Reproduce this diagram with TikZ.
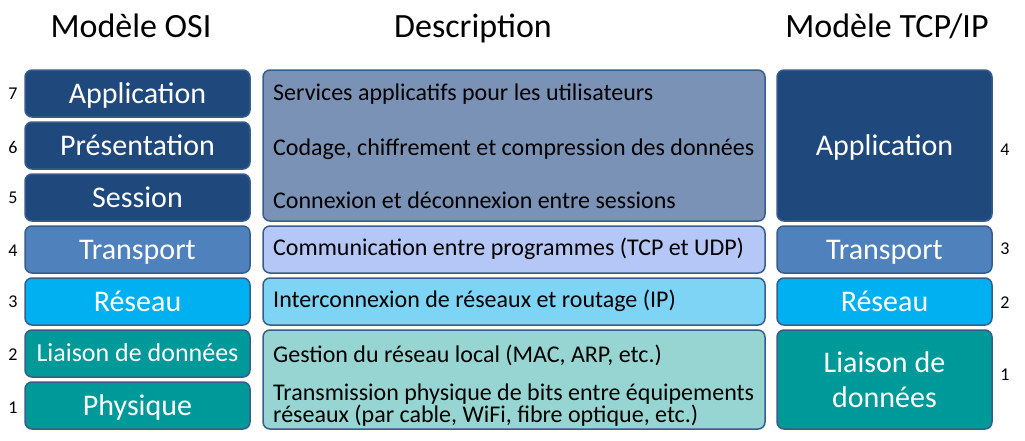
\documentclass[tikz,border=0pt]{standalone}
\usepackage{fontspec}
\setmainfont{Carlito}
\usepackage{xcolor}
\usetikzlibrary{positioning}

\definecolor{edge}{RGB}{56,93,138}
\definecolor{osiapp}{RGB}{31,73,125}
\definecolor{ositrans}{RGB}{79,129,189}
\definecolor{osinet}{RGB}{0,176,240}
\definecolor{osilink}{RGB}{0,153,153}
\definecolor{descup}{RGB}{122,146,182}
\definecolor{desctrans}{RGB}{180,199,247}
\definecolor{descnet}{RGB}{125,212,245}
\definecolor{desclink}{RGB}{150,213,210}

\begin{document}
\begin{tikzpicture}[x=1pt,y=-1pt,
  node distance=5pt and 13pt,
  layer/.style={draw=edge,line width=1.5pt,rounded corners=7pt,text=white,
                inner sep=0pt,outer sep=0pt,font=\fontsize{30}{35}\selectfont},
  osi/.style={layer,minimum width=225pt,minimum height=47pt,
              text height=19pt,text depth=0pt},
  tcp/.style={layer,minimum width=215pt,minimum height=47pt,
              text height=19pt,text depth=0pt},
  descbox/.style={draw=edge,line width=1.5pt,rounded corners=7pt,
                  minimum width=502pt,minimum height=47pt,inner sep=0pt,outer sep=0pt},
  desctext/.style={anchor=base west,inner sep=0pt,font=\fontsize{24}{22}\selectfont},
  num/.style={font=\fontsize{18}{20}\selectfont,inner sep=0pt},
  title/.style={anchor=base,inner sep=0pt,font=\fontsize{34}{40}\selectfont}
]
\useasboundingbox (0,0) rectangle (1025,440);

% headings
\node[title] (hosi) at (131,37) {Modèle OSI};
\node[title] (hdesc) at (473,37) {Description};
\node[title] (htcp) at (887,37) {Modèle TCP/IP};

% OSI model
\node[osi,fill=osiapp,anchor=north west] (osi7) at (25,70) {Application};
\node[osi,fill=osiapp,below=of osi7] (osi6) {Présentation};
\node[osi,fill=osiapp,below=of osi6] (osi5) {Session};
\node[osi,fill=ositrans,below=of osi5] (osi4) {Transport};
\node[osi,fill=osinet,below=of osi4] (osi3) {Réseau};
\node[osi,fill=osilink,below=of osi3,font=\fontsize{26}{30}\selectfont,text height=16.5pt] (osi2) {Liaison de données};
\node[osi,fill=osilink,below=of osi2] (osi1) {Physique};

% description
\node[descbox,fill=descup,minimum height=151pt,right=of osi6] (d765) {};
\node[descbox,fill=desctrans,right=of osi4] (d4) {};
\node[descbox,fill=descnet,right=of osi3] (d3) {};
\node[descbox,fill=desclink,minimum height=99pt,below=of d3] (d21) {};

\node[desctext] (t7) at (273,100) {Services applicatifs pour les utilisateurs};
\node[desctext] (t6) at (273,155) {Codage, chiffrement et compression des données};
\node[desctext] (t5) at (273,208) {Connexion et déconnexion entre sessions};
\node[desctext] (t4) at (273,255) {Communication entre programmes (TCP et UDP)};
\node[desctext] (t3) at (273,307) {Interconnexion de réseaux et routage (IP)};
\node[desctext] (t2) at (273,362) {Gestion du réseau local (MAC, ARP, etc.)};
\node[desctext] (t1a) at (273,400) {Transmission physique de bits entre équipements};
\node[desctext] (t1b) at (273,422) {réseaux (par cable, WiFi, fibre optique, etc.)};

% TCP/IP model
\node[tcp,fill=osiapp,minimum height=151pt,right=12pt of d765] (tcp4) {Application};
\node[tcp,fill=ositrans,right=12pt of d4] (tcp3) {Transport};
\node[tcp,fill=osinet,right=12pt of d3] (tcp2) {Réseau};
\node[layer,fill=osilink,minimum width=215pt,minimum height=99pt,align=center,
      right=12pt of d21] (tcp1) {Liaison de\\données};

% layer numbers
\node[num] (n7) at (13,94) {7};
\node[num] (n6) at (13,147) {6};
\node[num] (n5) at (13,198) {5};
\node[num] (n4) at (13,251) {4};
\node[num] (n3) at (13,302) {3};
\node[num] (n2) at (13,355) {2};
\node[num] (n1) at (13,408) {1};
\node[num] (m4) at (1005,150) {4};
\node[num] (m3) at (1005,249) {3};
\node[num] (m2) at (1005,303) {2};
\node[num] (m1) at (1005,375) {1};
\end{tikzpicture}
\end{document}
